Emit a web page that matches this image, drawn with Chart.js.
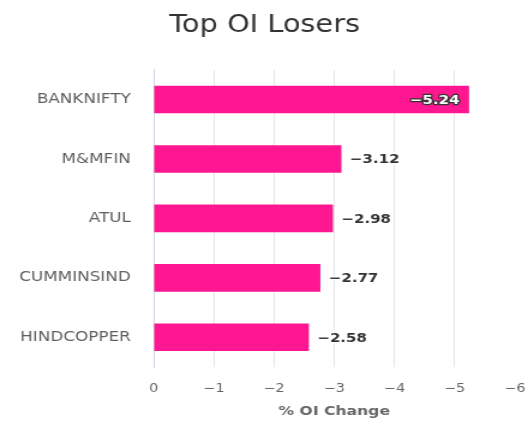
<!DOCTYPE html>
<html>
<head>
<meta charset="utf-8">
<script src="https://cdn.jsdelivr.net/npm/chart.js@4"></script>
<style>
html,body{margin:0;padding:0;background:#fff;overflow:hidden;}
/* the source picture is stretched sideways, so the chart is drawn narrower and widened */
#box{width:441px;height:421px;transform:scaleX(1.2);transform-origin:0 0;}
</style>
</head>
<body>
<div id="box"><canvas id="oi-chart"></canvas></div>
<script>
const symbols=['BANKNIFTY','M&MFIN','ATUL','CUMMINSIND','HINDCOPPER'];
const oiChange=[-5.24,-3.12,-2.98,-2.77,-2.58];
const xTicks=[0,-1,-2,-3,-4,-5,-6];

const FONT='"DejaVu Sans", Verdana, sans-serif';
const minus=(v)=>v<0 ? '\u2212'+Math.abs(v) : ''+v;

// value labels at the end of each bar, inside when there is no room
const barLabels={
  id:'barLabels',
  afterDatasetsDraw(chart){
    const ctx=chart.ctx;
    const meta=chart.getDatasetMeta(0);
    ctx.save();
    ctx.font='bold 12.5px '+FONT;
    ctx.textBaseline='middle';
    ctx.lineJoin='round';
    meta.data.forEach((bar,i)=>{
      const txt='\u2212'+Math.abs(oiChange[i]).toFixed(2);
      const w=ctx.measureText(txt).width;
      let x=bar.x+7, inside=false;
      if(x+w>chart.chartArea.right){ x=bar.x-8; inside=true; }
      ctx.textAlign=inside ? 'right' : 'left';
      ctx.lineWidth=2.5;
      ctx.strokeStyle=inside ? '#333' : '#fff';
      ctx.strokeText(txt,x,bar.y+1);
      ctx.fillStyle=inside ? '#fff' : '#333';
      ctx.fillText(txt,x,bar.y+1);
    });
    ctx.restore();
  }
};

const ctx=document.getElementById('oi-chart').getContext('2d');
const oiChart=new Chart(ctx,{
  type:'bar',
  data:{
    labels:symbols,
    datasets:[{
      label:'% OI Change',
      data:oiChange,
      backgroundColor:'#ff1791',
      borderWidth:0,
      categoryPercentage:1,
      barPercentage:0.465
    }]
  },
  options:{
    indexAxis:'y',
    responsive:true,
    maintainAspectRatio:false,
    animation:false,
    layout:{padding:{left:0,right:0,top:0,bottom:0}},
    plugins:{
      legend:{display:false},
      tooltip:{enabled:false},
      title:{
        display:true,
        text:'Top OI Losers',
        color:'#333333',
        font:{family:FONT,size:24,weight:'normal'},
        padding:{top:11,bottom:30}
      }
    },
    scales:{
      x:{
        type:'linear',
        reverse:true,
        min:-6,
        max:0,
        afterBuildTicks:(s)=>{ s.ticks=xTicks.map(v=>({value:v})); },
        afterFit:(s)=>{ s.height=54; s.paddingRight=12; },
        ticks:{
          color:'#666666',
          font:{family:FONT,size:12},
          padding:15,
          callback:(v)=>minus(v)
        },
        grid:{
          drawTicks:false,
          color:(c)=>c.tick && c.tick.value===-6 ? 'rgba(0,0,0,0)' : (c.tick && c.tick.value===0 ? '#ccd6eb' : '#e6e6e6')
        },
        border:{display:false},
        title:{
          display:true,
          text:'% OI Change',
          color:'#666666',
          font:{family:FONT,size:13,weight:'bold'},
          padding:{top:0,bottom:2}
        }
      },
      y:{
        afterFit:(s)=>{ s.width=128; },
        ticks:{
          color:'#606060',
          font:{family:FONT,size:14},
          padding:19
        },
        grid:{display:false,drawTicks:false},
        border:{display:true,color:'#ccd6eb'}
      }
    }
  },
  plugins:[barLabels]
});
</script>
</body>
</html>
